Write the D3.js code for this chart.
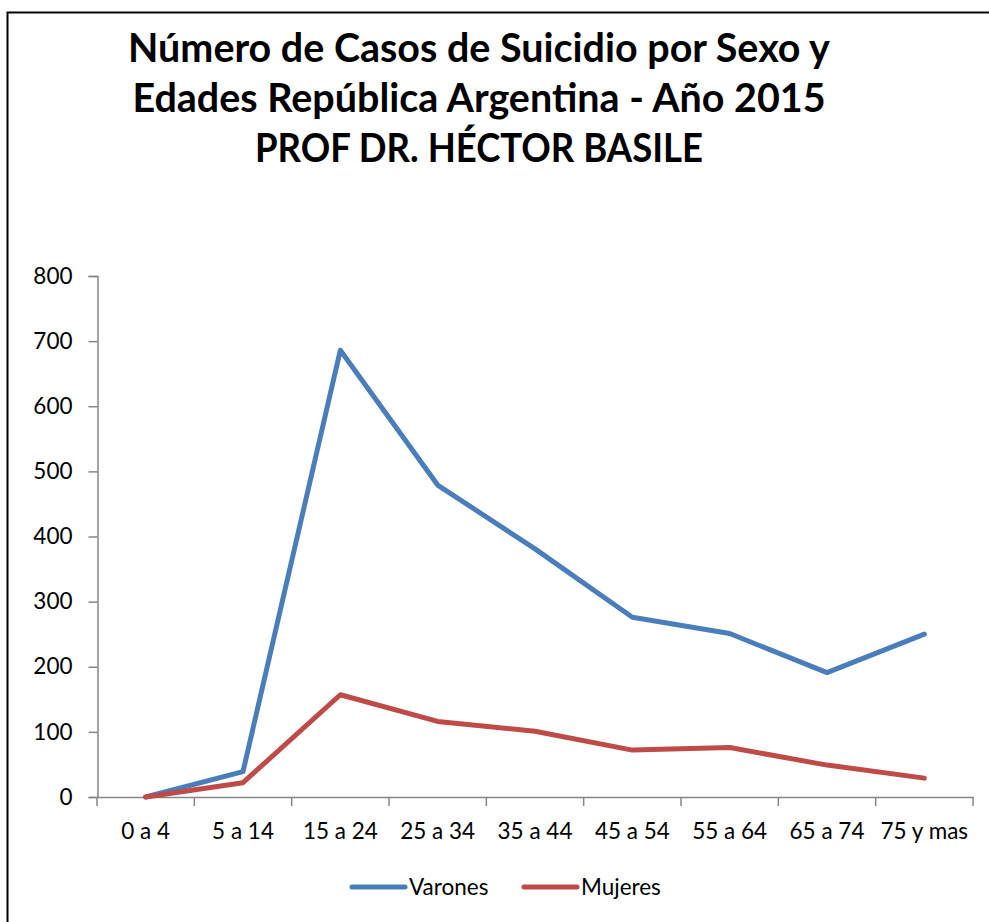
<!DOCTYPE html>
<html><head><meta charset="utf-8">
<script src="https://cdn.jsdelivr.net/npm/d3@7"></script>
<style>body{margin:0;background:#fff}svg{display:block}</style>
</head><body>
<script>
const categories = ["0 a 4","5 a 14","15 a 24","25 a 34","35 a 44","45 a 54","55 a 64","65 a 74","75 y mas"];
const varones = [0, 39, 686, 479, 381, 276, 251, 191, 250];
const mujeres = [0, 22, 157, 116, 101, 72, 76, 49, 29];
const yTicks = [0,100,200,300,400,500,600,700,800];
const titleLines = ["Número de Casos de Suicidio por Sexo y","Edades República Argentina - Año 2015","PROF DR. HÉCTOR BASILE"];
const seriesNames = ["Varones","Mujeres"];
const colors = ["#4A7EBB","#BE4B48"];

const W=989,H=922;
const svg=d3.select("body").append("svg").attr("width",W).attr("height",H);
const font="Lato, 'Open Sans', sans-serif";
const labelSize=22.5;

svg.append("rect").attr("x",7.5).attr("y",12.5).attr("width",990).attr("height",930)
  .attr("fill","none").attr("stroke","#000").attr("stroke-width",2);

// title
const tg=svg.append("g");
const baselines=[62,112,162];
const targetW=[702,693,448];
titleLines.forEach((t,i)=>{
  tg.append("text").attr("x",479).attr("y",baselines[i]).attr("text-anchor","middle")
    .attr("font-family",font).attr("font-weight","bold").attr("font-size",34).attr("fill","#000").text(t);
});
const n0=tg.select("text").node();
const fs=34*702/n0.getComputedTextLength();
tg.selectAll("text").attr("font-size",fs).each(function(d,i){
  const w=this.getComputedTextLength();
  if(w>targetW[i]+4) d3.select(this).attr("textLength",targetW[i]).attr("lengthAdjust","spacingAndGlyphs");
});

const x=d3.scaleBand().domain(categories).range([97,973]);
const y=d3.scaleLinear().domain([0,800]).range([797,276]);

const axisColor="#868686";
// y axis
const ya=svg.append("g").attr("transform","translate(97.5,0)").call(d3.axisLeft(y).tickValues(yTicks).tickSize(9).tickPadding(16));
ya.select(".domain").attr("stroke",axisColor).attr("stroke-width",1.5);
ya.selectAll(".tick line").attr("stroke",axisColor).attr("stroke-width",1.5);
ya.selectAll("text").attr("font-family",font).attr("font-size",labelSize).attr("fill","#000");

// x axis
const xa=svg.append("g").attr("transform","translate(0,797)").call(d3.axisBottom(x).tickSize(0).tickPadding(26));
xa.select(".domain").attr("stroke",axisColor).attr("stroke-width",1.5);
xa.selectAll("text").attr("font-family",font).attr("font-size",labelSize).attr("fill","#000");
const bounds=categories.map(c=>x(c)).concat([x(categories[categories.length-1])+x.bandwidth()]);
svg.append("g").selectAll("line").data(bounds).join("line")
  .attr("x1",d=>d).attr("x2",d=>d).attr("y1",797).attr("y2",806)
  .attr("stroke",axisColor).attr("stroke-width",1.5);

const line=d3.line().x((d,i)=>x(categories[i])+x.bandwidth()/2).y(d=>y(d));
[varones,mujeres].forEach((s,k)=>{
  svg.append("path").datum(s).attr("d",line).attr("fill","none")
    .attr("stroke",colors[k]).attr("stroke-width",5).attr("stroke-linejoin","round").attr("stroke-linecap","round");
});

// legend
const legX=[352,524];
seriesNames.forEach((n,k)=>{
  const g=svg.append("g");
  g.append("line").attr("x1",legX[k]).attr("x2",legX[k]+53).attr("y1",887).attr("y2",887)
    .attr("stroke",colors[k]).attr("stroke-width",5).attr("stroke-linecap","round");
  g.append("text").attr("x",legX[k]+57).attr("y",895).attr("font-family",font).attr("font-size",labelSize).attr("fill","#000").text(n);
});
</script>
</body></html>
